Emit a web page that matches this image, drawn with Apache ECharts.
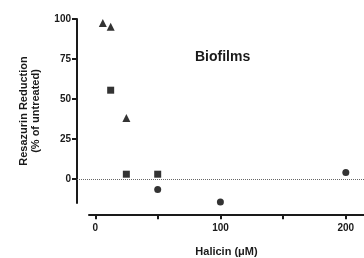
<!DOCTYPE html>
<html>
<head>
<meta charset="utf-8">
<script src="https://cdn.jsdelivr.net/npm/echarts@6/dist/echarts.min.js"></script>
<style>
  html, body { margin: 0; padding: 0; background: #fff; }
  #chart { width: 364px; height: 258px; }
</style>
</head>
<body>
<div id="chart"></div>
<script>
// values
const triangles = [[6.25, 97.5], [12.5, 95.2], [25, 38.1]]
const squares = [[12.5, 55.5], [25, 3], [50, 3]]
const circles = [[50, -6.6], [100, -14.3], [200, 4]]
const yTicks = [0, 25, 50, 75, 100]
const xTicks = [0, 50, 100, 150, 200]
const xLabels = [0, 100, 200]

const font = 'Liberation Sans, Arial, sans-serif'
const ink = '#1a1a1a'
const chart = echarts.init(document.getElementById('chart'))
const pointStyle = { color: '#000' }

chart.setOption({
  animation: false,
  graphic: [{
    type: 'text', left: 195, top: 50,
    style: { text: 'Biofilms', font: 'bold 14px ' + font, fill: ink }
  }],
  grid: [
    { left: 77, top: 19, right: 0, bottom: 55 },
    { left: 89, top: 214, right: 0, bottom: 43 }
  ],
  xAxis: [
    { gridIndex: 0, type: 'value', min: -14.35, max: 214.5, show: false },
    {
      gridIndex: 1, type: 'value', min: -5, max: 214.5, interval: 50,
      axisLine: { show: true, onZero: false, lineStyle: { color: ink, width: 2 } },
      axisTick: { show: true, customValues: xTicks, length: 5, lineStyle: { color: ink, width: 2 } },
      axisLabel: { customValues: xLabels, color: ink, fontSize: 10, fontWeight: 'bold', fontFamily: font, margin: 9 },
      splitLine: { show: false },
      name: 'Halicin (μM)', nameLocation: 'middle', nameGap: 32,
      nameTextStyle: { color: ink, fontSize: 11, fontWeight: 'bold', fontFamily: font }
    }
  ],
  yAxis: [
    {
      gridIndex: 0, type: 'value', min: -15, max: 100,
      axisLine: { show: true, onZero: false, lineStyle: { color: ink, width: 2 } },
      axisTick: { show: true, customValues: yTicks, length: 5, lineStyle: { color: ink, width: 2 } },
      axisLabel: { customValues: yTicks, color: ink, fontSize: 10, fontWeight: 'bold', fontFamily: font, margin: 6 },
      splitLine: { show: false },
      name: 'Resazurin Reduction\n(% of untreated)', nameLocation: 'middle', nameGap: 35,
      nameTextStyle: { color: ink, fontSize: 11, fontWeight: 'bold', fontFamily: font, lineHeight: 12 }
    },
    { gridIndex: 1, type: 'value', show: false }
  ],
  series: [
    {
      type: 'scatter', xAxisIndex: 0, yAxisIndex: 0, data: triangles,
      symbol: 'triangle', symbolSize: 8, itemStyle: pointStyle,
      markLine: {
        silent: true, symbol: 'none', label: { show: false },
        lineStyle: { color: '#666', type: 'dotted', width: 1 },
        data: [{ yAxis: 0 }]
      }
    },
    { type: 'scatter', xAxisIndex: 0, yAxisIndex: 0, data: squares, symbol: 'rect', symbolSize: 7, itemStyle: pointStyle },
    { type: 'scatter', xAxisIndex: 0, yAxisIndex: 0, data: circles, symbol: 'circle', symbolSize: 7, itemStyle: pointStyle }
  ]
})
</script>
</body>
</html>
